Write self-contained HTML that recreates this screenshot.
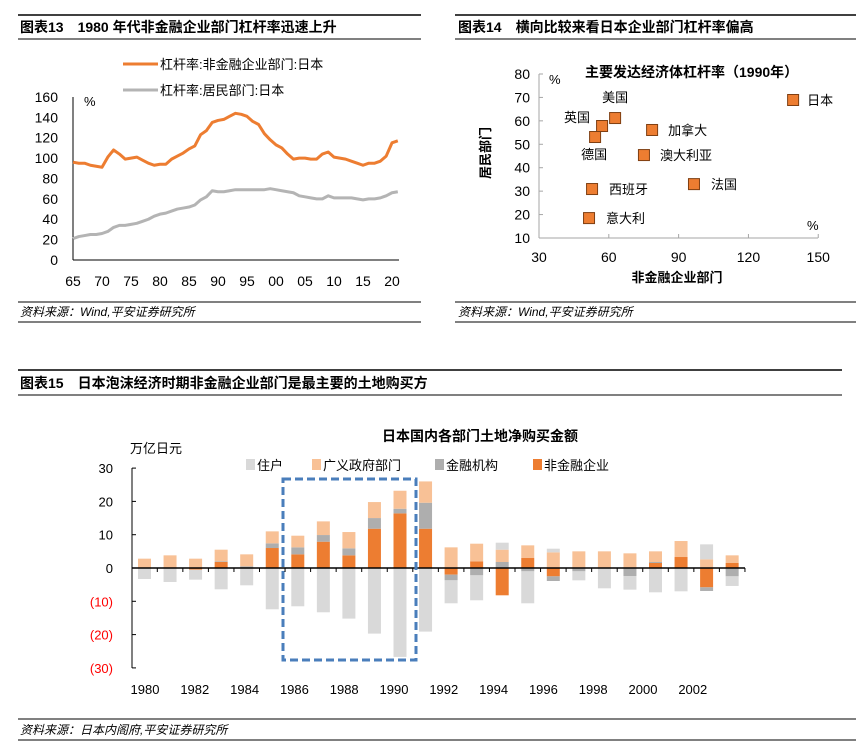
<!DOCTYPE html>
<html><head><meta charset="utf-8">
<style>
body{margin:0;background:#fff;width:868px;height:751px;overflow:hidden;font-family:"Liberation Sans","Noto Sans CJK SC",sans-serif;}
svg{position:absolute;left:0;top:0}
text{font-family:"Liberation Sans","Noto Sans CJK SC",sans-serif;}
</style></head><body>
<svg id="s" width="868" height="751" viewBox="0 0 868 751" xmlns="http://www.w3.org/2000/svg">
<g>
<line x1="18" y1="15" x2="421" y2="15" stroke="#000" stroke-width="1.5"/>
<line x1="18" y1="39" x2="421" y2="39" stroke="#000" stroke-width="1"/>
<text x="20" y="32" font-size="14" font-weight="bold">图表13　1980 年代非金融企业部门杠杆率迅速上升</text>
</g>
<g>
<line x1="455" y1="15" x2="856" y2="15" stroke="#000" stroke-width="1.5"/>
<line x1="455" y1="39" x2="856" y2="39" stroke="#000" stroke-width="1"/>
<text x="458" y="32" font-size="14" font-weight="bold">图表14　横向比较来看日本企业部门杠杆率偏高</text>
</g>
<g>
<line x1="18" y1="302" x2="421" y2="302" stroke="#000"/>
<line x1="18" y1="322" x2="421" y2="322" stroke="#000"/>
<text x="20" y="316" font-size="12" font-style="italic">资料来源：Wind,平安证券研究所</text>
</g>
<g>
<line x1="455" y1="302" x2="856" y2="302" stroke="#000"/>
<line x1="455" y1="322" x2="856" y2="322" stroke="#000"/>
<text x="458" y="316" font-size="12" font-style="italic">资料来源：Wind,平安证券研究所</text>
</g>
<g>
<line x1="18" y1="370" x2="842" y2="370" stroke="#000" stroke-width="1.5"/>
<line x1="18" y1="395" x2="842" y2="395" stroke="#000" stroke-width="1"/>
<text x="20" y="388" font-size="14" font-weight="bold">图表15　日本泡沫经济时期非金融企业部门是最主要的土地购买方</text>
</g>
<g>
<line x1="18" y1="719" x2="856" y2="719" stroke="#000"/>
<line x1="18" y1="740" x2="856" y2="740" stroke="#000"/>
<text x="20" y="734" font-size="12" font-style="italic">资料来源：日本内阁府,平安证券研究所</text>
</g>
<g id="c1"></g>
<g id="c2"></g>
<g id="c3"></g>
</svg>
<script>
// ---------- Chart 1 data ----------
const years1 = [];
for (let y = 1965; y <= 2021; y++) years1.push(y);
const corpLev = [96,95,95,93,92,91,101,108,104,99,100,101,98,95,93,94,94,99,102,105,109,112,123,127,135,137,138,141,144,143,141,136,133,124,118,113,110,104,99,100,100,99,99,104,106,101,100,99,97,95,93,95,95,97,102,115,117];
const hhLev = [21,23,24,25,25,26,28,32,34,34,35,36,38,40,43,45,46,48,50,51,52,54,59,62,68,67,67,68,69,69,69,69,69,69,70,69,68,67,66,63,62,61,60,60,63,61,61,61,61,60,59,60,60,61,63,66,67];
const yTicks1 = [0,20,40,60,80,100,120,140,160];
const xTickYears1 = [1965,1970,1975,1980,1985,1990,1995,2000,2005,2010,2015,2020];
const xTickLabels1 = ["65","70","75","80","85","90","95","00","05","10","15","20"];

// ---------- Chart 2 data ----------
const countries = ["日本","美国","英国","德国","加拿大","澳大利亚","西班牙","法国","意大利"];
const corpX = [139.2,62.7,57.1,54.1,78.6,75.1,52.8,96.6,51.5];
const hhY = [68.9,61.2,57.8,53.1,56.1,45.4,30.9,33.0,18.5];
const xTicks2 = [30,60,90,120,150];
const yTicks2 = [10,20,30,40,50,60,70,80];

// ---------- Chart 3 data ----------
const years3 = [1980,1981,1982,1983,1984,1985,1986,1987,1988,1989,1990,1991,1992,1993,1994,1995,1996,1997,1998,1999,2000,2001,2002,2003];
const household = [-3.3,-4.2,-3.0,-6.4,-5.2,-12.4,-11.5,-13.3,-15.2,-19.7,-26.7,-19.1,-6.9,-7.5,2.1,-9.6,1.1,-2.7,-6.1,-4.1,-7.3,-7.0,4.5,-2.9];
const government = [2.8,3.8,2.8,3.5,3.6,3.6,3.5,4.1,4.9,4.8,5.4,6.4,6.2,5.3,3.7,3.8,4.7,5.0,5.0,4.4,3.2,4.8,2.6,2.3];
const financial = [0,0,0,0.2,0.5,1.4,2.1,2.0,2.1,3.2,1.4,7.8,-1.7,-2.2,1.8,-1.0,-1.4,-1.0,0,-2.4,0.3,0,-1.1,-2.5];
const nonfinancial = [0,0,-0.5,1.8,0,6.0,4.1,7.9,3.8,11.8,16.4,11.8,-2.0,2.0,-8.2,3.0,-2.5,0,0,0,1.5,3.3,-5.8,1.5];
const yTicks3 = [30,20,10,0,-10,-20,-30];
const yTickLabels3 = ["30","20","10","0","(10)","(20)","(30)"];
const seriesNames3 = ["住户","广义政府部门","金融机构","非金融企业"];

const NS = "http://www.w3.org/2000/svg";
function mk(parent, tag, attrs, txt) {
  const e = document.createElementNS(NS, tag);
  for (const k in attrs) e.setAttribute(k, attrs[k]);
  if (txt !== undefined) e.textContent = txt;
  parent.appendChild(e);
  return e;
}

// ===== Chart 1 =====
(function(){
  const g = document.getElementById('c1');
  const x = v => 73 + (v - 1965) * 5.8;
  const y = v => 260 - v * 1.0188;
  mk(g,'line',{x1:73,y1:97,x2:73,y2:260,stroke:'#000','stroke-width':1});
  mk(g,'line',{x1:73,y1:260,x2:399,y2:260,stroke:'#000','stroke-width':1});
  yTicks1.forEach(t=>{
    const l = mk(g,'text',{x:58,y:y(t)+5,'font-size':14,'text-anchor':'end'},String(t));
    
    
  });
  xTickYears1.forEach((t,i)=>{
    const l = mk(g,'text',{x:x(t),y:286,'font-size':14,'text-anchor':'middle'},xTickLabels1[i]);
    
    
  });
  const u = mk(g,'text',{x:84,y:106,'font-size':13},'%');
  
  
  const p1 = mk(g,'polyline',{points:years1.map((yr,i)=>x(yr)+','+y(corpLev[i])).join(' '),fill:'none',stroke:'#ED7D31','stroke-width':3,'stroke-linejoin':'round'});
  
  
  const p2 = mk(g,'polyline',{points:years1.map((yr,i)=>x(yr)+','+y(hhLev[i])).join(' '),fill:'none',stroke:'#B4B4B4','stroke-width':3,'stroke-linejoin':'round'});
  
  
  const l1 = mk(g,'g',{});
  
  
  mk(l1,'line',{x1:123,y1:64,x2:158,y2:64,stroke:'#ED7D31','stroke-width':3});
  mk(l1,'text',{x:160,y:69,'font-size':13},'杠杆率:非金融企业部门:日本');
  const l2 = mk(g,'g',{});
  
  
  mk(l2,'line',{x1:123,y1:90,x2:158,y2:90,stroke:'#B4B4B4','stroke-width':3});
  mk(l2,'text',{x:160,y:95,'font-size':13},'杠杆率:居民部门:日本');
})();

// ===== Chart 2 =====
(function(){
  const g = document.getElementById('c2');
  const x = v => 539 + (v - 30) * 2.327;
  const y = v => 238 - (v - 10) * 2.343;
  mk(g,'line',{x1:539,y1:74,x2:539,y2:238,stroke:'#A6A6A6'});
  mk(g,'line',{x1:539,y1:238,x2:818,y2:238,stroke:'#A6A6A6'});
  yTicks2.forEach(t=>{
    mk(g,'line',{x1:539,y1:y(t),x2:543,y2:y(t),stroke:'#A6A6A6'});
    const l = mk(g,'text',{x:530,y:y(t)+5,'font-size':14,'text-anchor':'end'},String(t));
    
    
  });
  xTicks2.forEach(t=>{
    mk(g,'line',{x1:x(t),y1:238,x2:x(t),y2:234,stroke:'#A6A6A6'});
    const l = mk(g,'text',{x:x(t),y:262,'font-size':14,'text-anchor':'middle'},String(t));
    
    
  });
  const t = mk(g,'text',{x:585,y:77,'font-size':14,'font-weight':'bold'},'主要发达经济体杠杆率（1990年）');
  
  
  const u1 = mk(g,'text',{x:549,y:84,'font-size':13},'%');
  
  
  const u2 = mk(g,'text',{x:807,y:230,'font-size':13},'%');
  
  
  const xt = mk(g,'text',{x:677,y:282,'font-size':13,'font-weight':'bold','text-anchor':'middle'},'非金融企业部门');
  
  
  const yt = mk(g,'text',{x:0,y:0,'font-size':13,'font-weight':'bold','text-anchor':'middle',transform:'translate(490,153) rotate(-90)'},'居民部门');
  
  
  const offs = [[14,5,'start'],[0,-16,'middle'],[-12,-4,'end'],[-1,22,'middle'],[16,5,'start'],[16,5,'start'],[17,5,'start'],[17,5,'start'],[17,5,'start']];
  countries.forEach((c,i)=>{
    const px = x(corpX[i]), py = y(hhY[i]);
    const r = mk(g,'rect',{x:px-5.5,y:py-5.5,width:11,height:11,fill:'#ED7D31',stroke:'#7F3F12','stroke-width':1});
    
    
    const l = mk(g,'text',{x:px+offs[i][0],y:py+offs[i][1],'font-size':13,'text-anchor':offs[i][2]},c);
    
    
  });
})();

// ===== Chart 3 =====
(function(){
  const g = document.getElementById('c3');
  const x = yr => 144.5 + (yr - 1980) * 25.55;
  const xl = yr => 145 + (yr - 1980) * 24.9;
  const y = v => 568 - v * 3.33;
  const colors = ['#D9D9D9','#F8C196','#AEAEAE','#ED7D31'];
  const t = mk(g,'text',{x:480,y:441,'font-size':14,'font-weight':'bold','text-anchor':'middle'},'日本国内各部门土地净购买金额');
  
  
  const u = mk(g,'text',{x:130,y:453,'font-size':13},'万亿日元');
  
  
  const lx = [246,312,435,533];
  seriesNames3.forEach((n,i)=>{
    const le = mk(g,'g',{});
    
    
    mk(le,'rect',{x:lx[i],y:459,width:9,height:11,fill:colors[i]});
    mk(le,'text',{x:lx[i]+11,y:470,'font-size':13},n);
  });
  mk(g,'line',{x1:132,y1:468,x2:132,y2:668,stroke:'#000'});
  yTicks3.forEach((tv,i)=>{
    mk(g,'line',{x1:132,y1:y(tv),x2:136,y2:y(tv),stroke:'#000'});
    const l = mk(g,'text',{x:113,y:y(tv)+5,'font-size':13,'text-anchor':'end',fill:tv<0?'#FF0000':'#000'},yTickLabels3[i]);
    
    
  });
  const series = [nonfinancial, financial, government, household];
  const cols = [colors[3],colors[2],colors[1],colors[0]];
  years3.forEach((yr,i)=>{
    let pos = 0, neg = 0;
    series.forEach((s,k)=>{
      const v = s[i];
      if (!v) return;
      let y0, y1;
      if (v > 0) { y0 = pos; y1 = pos + v; pos = y1; }
      else { y0 = neg; y1 = neg + v; neg = y1; }
      const r = mk(g,'rect',{x:x(yr)-6.5,y:Math.min(y(y0),y(y1)),width:13,height:Math.abs(y(y1)-y(y0)),fill:cols[k]});
      
      
    });
    if (yr % 2 === 0) {
      const l = mk(g,'text',{x:xl(yr),y:694,'font-size':13,'text-anchor':'middle'},String(yr));
      
      
    }
  });
  mk(g,'line',{x1:132,y1:568,x2:745,y2:568,stroke:'#000','stroke-width':1.5});
  years3.forEach(yr=>{ mk(g,'line',{x1:x(yr)+12.8,y1:568,x2:x(yr)+12.8,y2:572,stroke:'#000'}); });
  const box = mk(g,'rect',{x:283,y:479,width:133,height:181,fill:'none',stroke:'#4A7EBB','stroke-width':3,'stroke-dasharray':'8,4'});
  
  
})();
</script>
</body></html>
